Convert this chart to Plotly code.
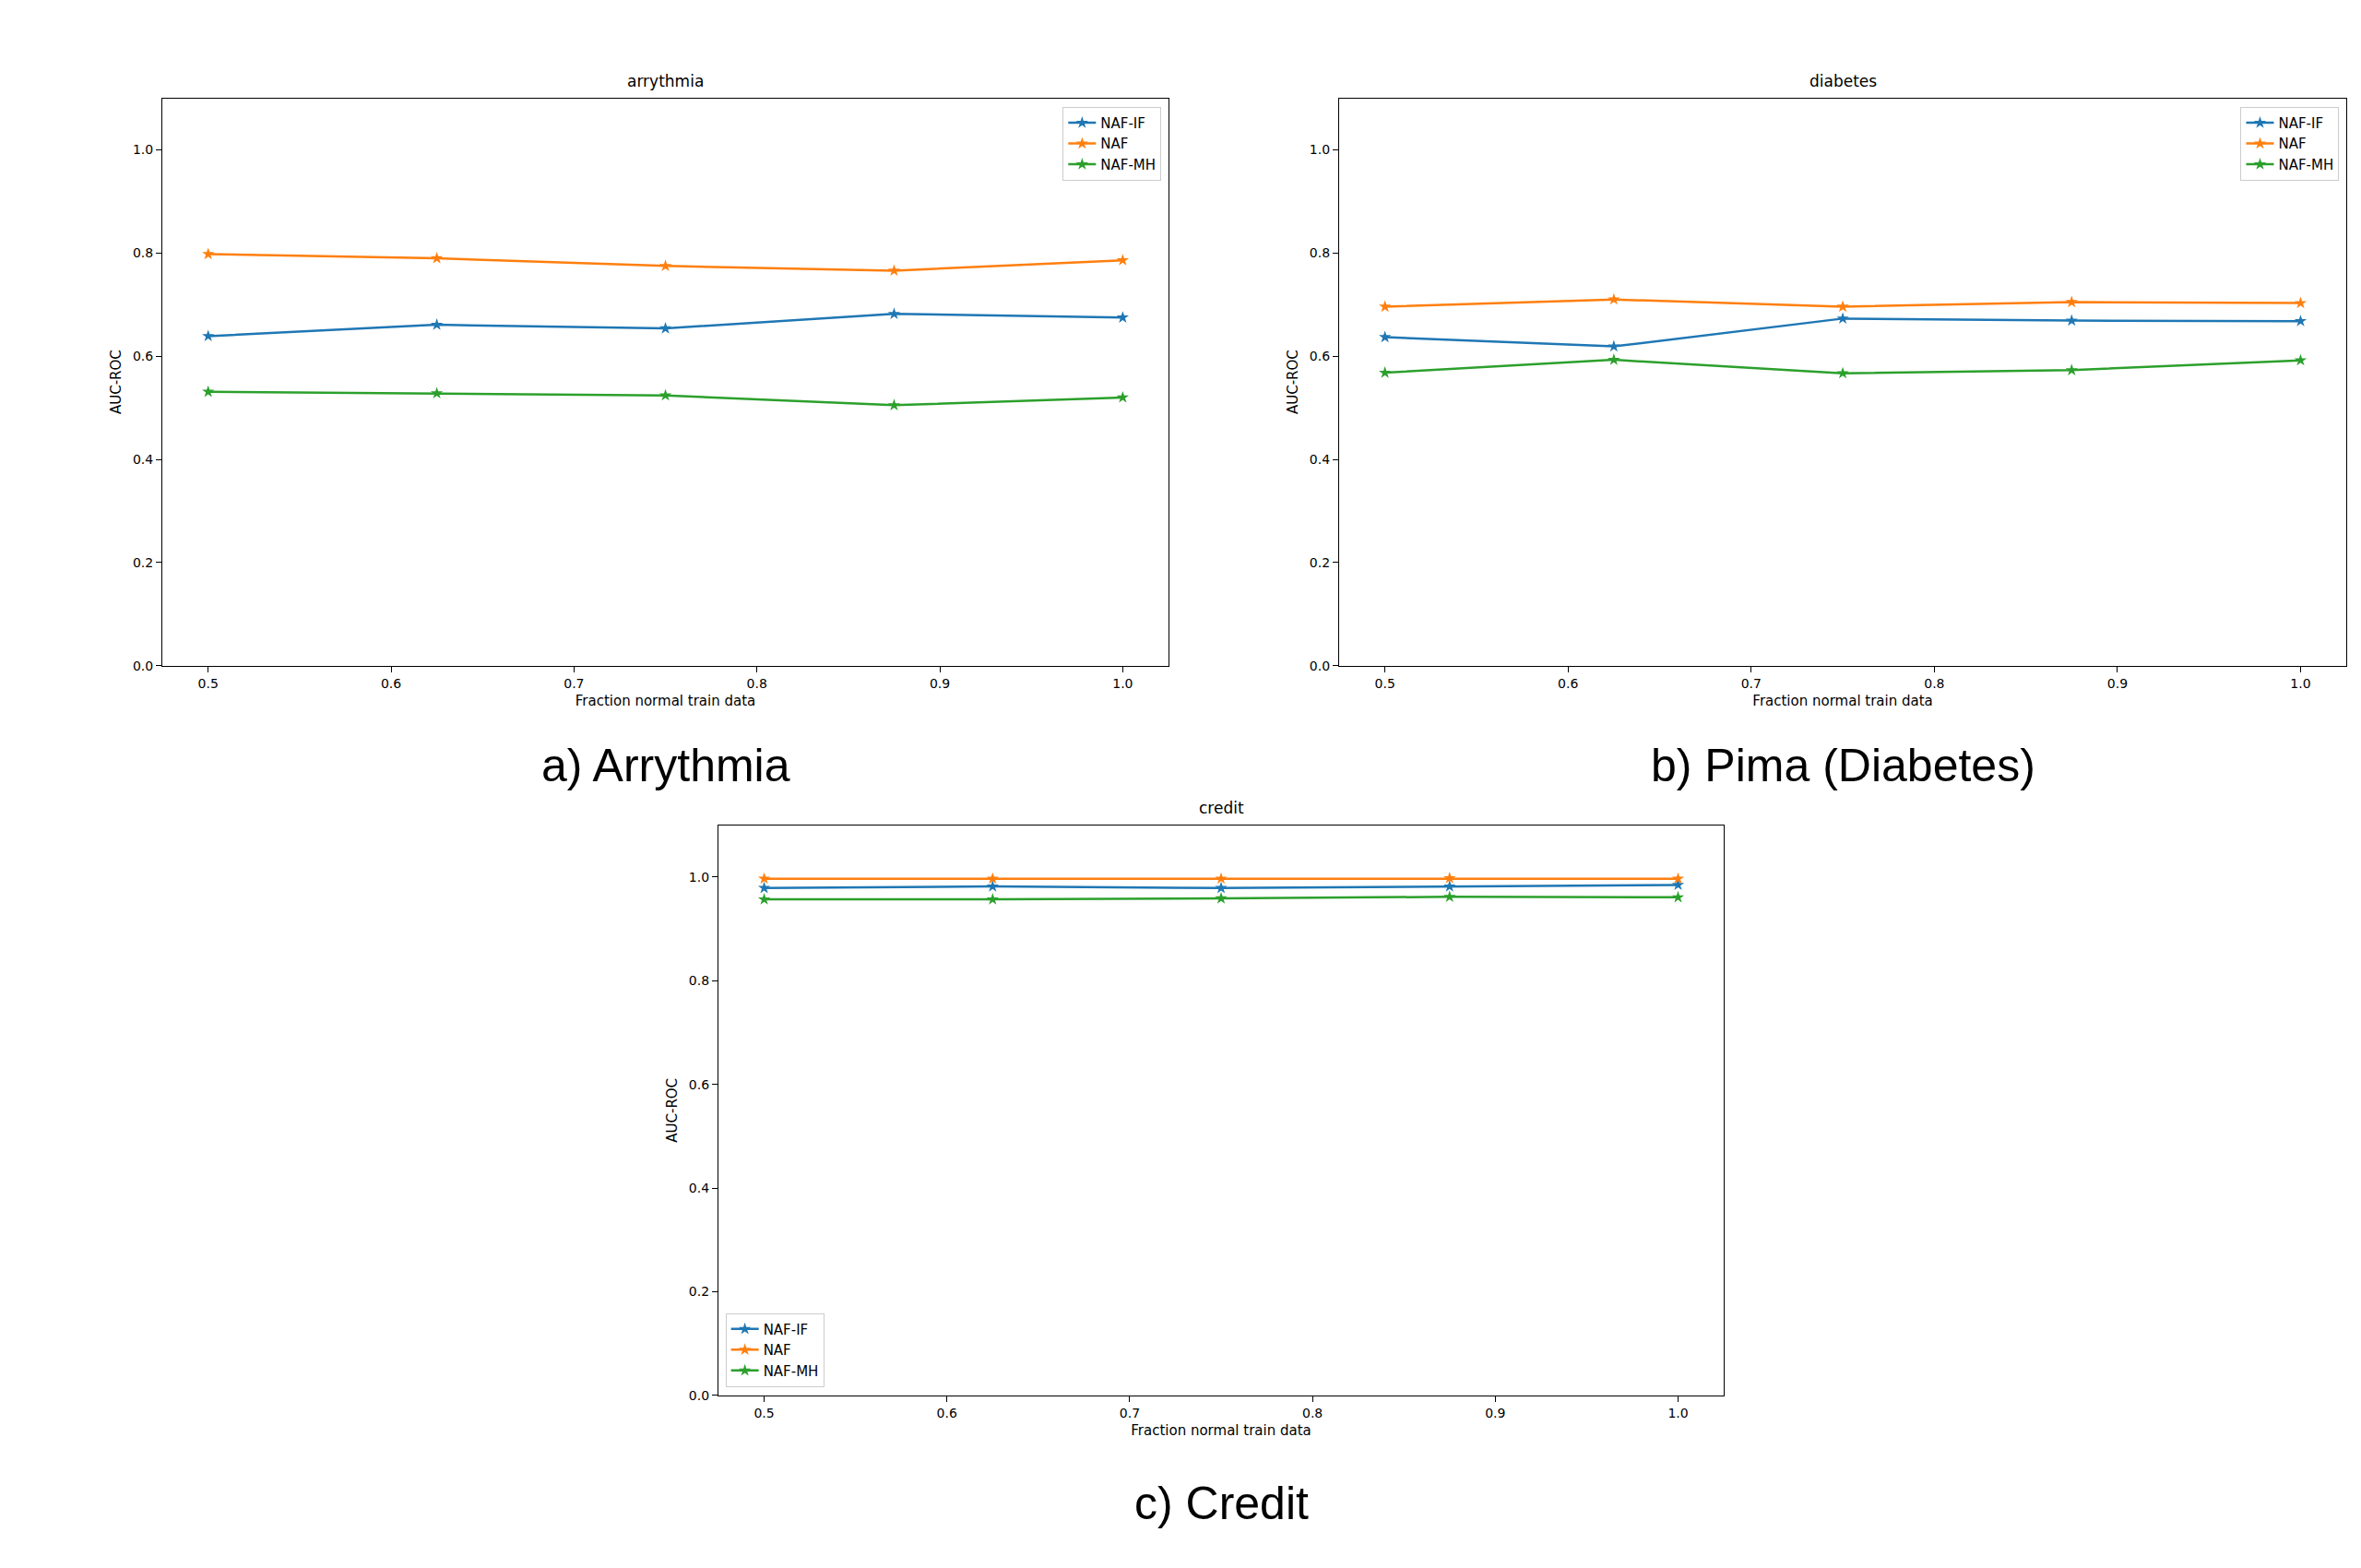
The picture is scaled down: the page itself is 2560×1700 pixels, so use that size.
import plotly.graph_objects as go

x_frac = [0.5, 0.625, 0.75, 0.875, 1.0]
series_names = ["NAF-IF", "NAF", "NAF-MH"]
colors = ["#1f77b4", "#ff7f0e", "#2ca02c"]

arr_naf_if = [0.639, 0.661, 0.654, 0.682, 0.675]
arr_naf = [0.798, 0.790, 0.775, 0.766, 0.786]
arr_naf_mh = [0.531, 0.528, 0.524, 0.505, 0.520]

dia_naf_if = [0.637, 0.619, 0.673, 0.669, 0.668]
dia_naf = [0.696, 0.710, 0.696, 0.705, 0.703]
dia_naf_mh = [0.568, 0.593, 0.567, 0.573, 0.592]

cre_naf_if = [0.979, 0.982, 0.979, 0.982, 0.985]
cre_naf = [0.997, 0.997, 0.997, 0.998, 0.997]
cre_naf_mh = [0.957, 0.957, 0.959, 0.962, 0.961]

dx = 8 / 2560
dy = 8 / 1700
panels = [
    ("arrythmia", [arr_naf_if, arr_naf, arr_naf_mh], [0.0688, 0.4949], [0.5735, 0.937], "a) Arrythmia", 0.064),
    ("diabetes", [dia_naf_if, dia_naf, dia_naf_mh], [0.5672, 0.9938], [0.5735, 0.937], "b) Pima (Diabetes)", 0.064),
    ("credit", [cre_naf_if, cre_naf, cre_naf_mh], [0.3043, 0.7301], [0.1059, 0.4712], "c) Credit", 0.069),
]
legend_pos = [("right", "top", 0.993, 0.985), ("right", "top", 0.993, 0.985), ("left", "bottom", 0.007, 0.015)]

fig = go.Figure()
font = "DejaVu Sans"
for i, (title, data, xd, yd, caption, cap_off) in enumerate(panels):
    xd = [xd[0] - dx, xd[1] - dx]
    yd = [yd[0] + dy, yd[1] + dy]
    n = "" if i == 0 else str(i + 1)
    lname = "legend" if i == 0 else f"legend{i+1}"
    for name, vals, c in zip(series_names, data, colors):
        fig.add_trace(go.Scatter(x=x_frac, y=vals, name=name, mode="lines+markers",
                                 line=dict(color=c, width=2.5),
                                 marker=dict(symbol="star", size=10, color=c),
                                 xaxis="x" + n, yaxis="y" + n, legend=lname))
    axstyle = dict(showgrid=False, zeroline=False, showline=True, linecolor="black", linewidth=1.3,
                   mirror=True, ticks="outside", ticklen=6, tickcolor="black",
                   tickfont=dict(size=14, family=font, color="black"))
    fig.layout["xaxis" + n] = dict(domain=xd, range=[0.475, 1.025], anchor="y" + n,
                                   tickvals=[0.5, 0.6, 0.7, 0.8, 0.9, 1.0],
                                   ticktext=["0.5", "0.6", "0.7", "0.8", "0.9", "1.0"],
                                   title=dict(text="Fraction normal train data", font=dict(size=15, family=font, color="black"), standoff=6),
                                   **axstyle)
    fig.layout["yaxis" + n] = dict(domain=yd, range=[0, 1.1], anchor="x" + n,
                                   tickvals=[0, 0.2, 0.4, 0.6, 0.8, 1.0],
                                   ticktext=["0.0", "0.2", "0.4", "0.6", "0.8", "1.0"],
                                   title=dict(text="AUC-ROC", font=dict(size=15, family=font, color="black"), standoff=8),
                                   **axstyle)
    xa, ya, lx, ly = legend_pos[i]
    fig.layout[lname] = dict(x=xd[0] + lx * (xd[1] - xd[0]), y=yd[0] + ly * (yd[1] - yd[0]),
                             xanchor=xa, yanchor=ya, bgcolor="white", bordercolor="#cccccc", borderwidth=1,
                             font=dict(size=15, family=font, color="black"))
    fig.add_annotation(text=title, x=(xd[0] + xd[1]) / 2, y=yd[1] + 0.004, xref="paper", yref="paper",
                       xanchor="center", yanchor="bottom", showarrow=False, font=dict(size=17, family=font, color="black"))
    fig.add_annotation(text=caption, x=(xd[0] + xd[1]) / 2, y=yd[0] - cap_off, xref="paper", yref="paper",
                       xanchor="center", yanchor="middle", showarrow=False, font=dict(size=50, family="Liberation Sans", color="black"))

fig.update_layout(width=2560, height=1700, margin=dict(l=0, r=0, t=0, b=0),
                  plot_bgcolor="white", paper_bgcolor="white", showlegend=True)
fig.write_html("out.html")
